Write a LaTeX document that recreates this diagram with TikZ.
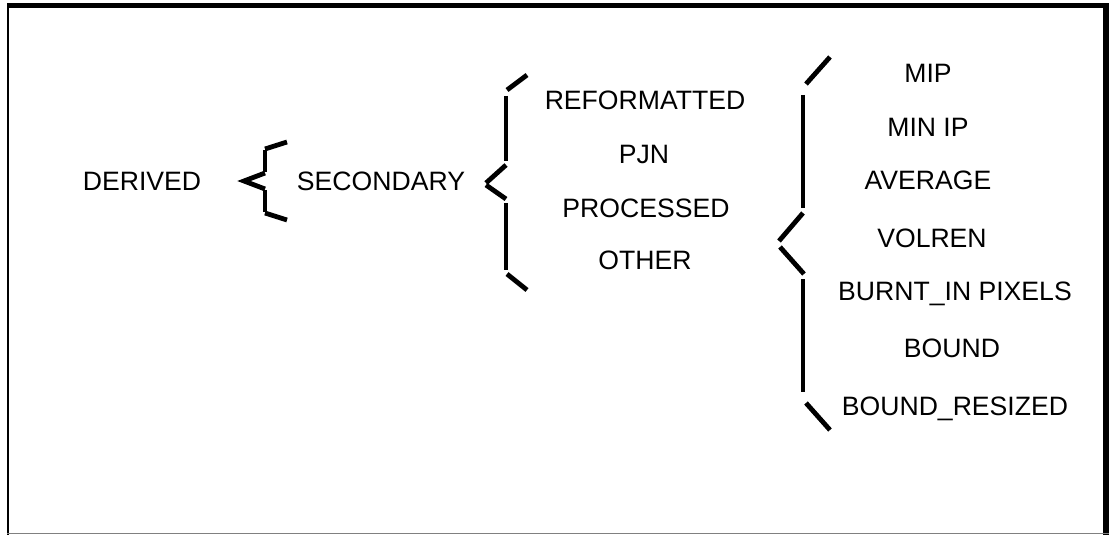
\documentclass[tikz,border=0pt]{standalone}
\usepackage{fontspec}
\setmainfont{Liberation Sans}
\usepackage{tikz}
\tikzset{>=stealth}
\tikzset{bar/.style={line width=2.4pt},
  item/.style={font=\fontsize{13.3}{16}\selectfont, inner sep=0pt, anchor=base}}

\begin{document}
\begin{tikzpicture}[x=0.5pt,y=-0.5pt]
    \useasboundingbox (0,0) rectangle (1109,535);

    % frame
    \draw[line width=2.5pt] (7,6)--(1109,6);
    \draw[line width=1pt] (7.5,3.5)--(7.5,535);
    \draw[line width=3pt] (1106,3.5)--(1106,535);
    \draw[line width=0.6pt,gray] (7,533.5)--(1109,533.5);

    \node[item] at (142,191)  (derived) {DERIVED};
    \node[item] at (381,191)  (secondary) {SECONDARY};

    \node[item] at (645,110)  (reform) {REFORMATTED};
    \node[item] at (644,163)  (pjn) {PJN};
    \node[item] at (646,217)  (processed) {PROCESSED};
    \node[item] at (645,270)  (other) {OTHER};

    \node[item] at (928,83)   (mip) {MIP};
    \node[item] at (928,137)  (minip) {MIN IP};
    \node[item] at (928,190)  (average) {AVERAGE};
    \node[item] at (932,247)  (volren) {VOLREN};
    \node[item] at (955,300)  (burnt) {BURNT\_IN PIXELS};
    \node[item] at (952,357)  (bound) {BOUND};
    \node[item] at (955,415)  (resized) {BOUND\_RESIZED};

    % brace derived
    \draw[bar] (265,149)--(287,142);
    \draw[bar] (265,150)--(265,172);
    \draw[bar] (265,173)--(244,181)--(265,189);
    \draw[bar] (265,190)--(265,212);
    \draw[bar] (265,213)--(287,220);

    % brace secondary
    \draw[bar] (507,90)--(527,75);
    \draw[bar] (506,96)--(506,161);
    \draw[bar] (506,165)--(486,183);
    \draw[bar] (486,185)--(506,199);
    \draw[bar] (506,203)--(506,270);
    \draw[bar] (507,274)--(527,290);

    % brace other
    \draw[bar] (806,84)--(830,57);
    \draw[bar] (803,95)--(803,208);
    \draw[bar] (803,213)--(779,241);
    \draw[bar] (780,247)--(804,274);
    \draw[bar] (803,279)--(803,392);
    \draw[bar] (806,403)--(830,430);
    \end{tikzpicture}
\end{document}
